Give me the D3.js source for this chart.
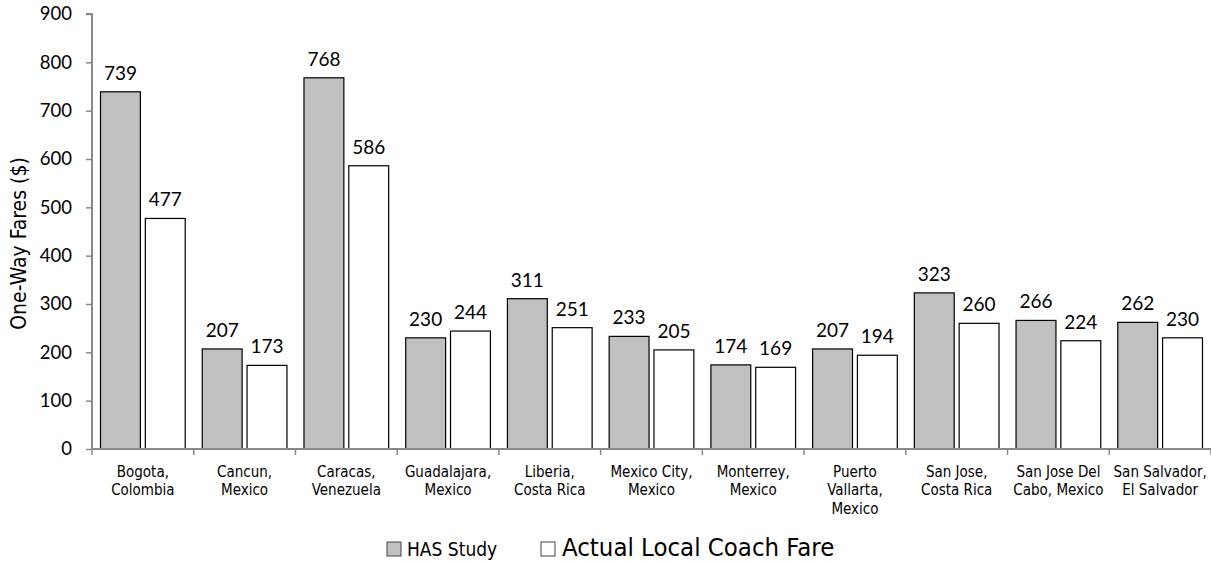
<!DOCTYPE html>
<html><head><meta charset="utf-8">
<script src="https://cdn.jsdelivr.net/npm/d3@7"></script>
<style>body{margin:0;background:#fff}</style>
</head><body>
<svg id="c" width="1211" height="561"></svg>
<script>
const categories = [["Bogota,","Colombia"],["Cancun,","Mexico"],["Caracas,","Venezuela"],["Guadalajara,","Mexico"],["Liberia,","Costa Rica"],["Mexico City,","Mexico"],["Monterrey,","Mexico"],["Puerto","Vallarta,","Mexico"],["San Jose,","Costa Rica"],["San Jose Del","Cabo, Mexico"],["San Salvador,","El Salvador"]];
const hasStudy = [739,207,768,230,311,233,174,207,323,266,262];
const actualFare = [477,173,586,244,251,205,169,194,260,224,230];
const yTicks = [0,100,200,300,400,500,600,700,800,900];
const seriesNames = ["HAS Study","Actual Local Coach Fare"];

const svg = d3.select("#c");
const pL = 92, pR = 1211, pT = 14, pB = 449;
const x = d3.scaleBand().domain(d3.range(categories.length)).range([pL, pR]);
const y = d3.scaleLinear().domain([0,900]).range([pB, pT]);
const sub = d3.scaleBand().domain([0,1]).range([0, x.bandwidth()]).paddingInner(0.11).paddingOuter(0.19);
const cal = "Lato, 'Liberation Sans', sans-serif";
const tah = "'DejaVu Sans Condensed', 'DejaVu Sans', sans-serif";

// y axis
const ya = svg.append("g").attr("transform",`translate(${pL},0)`)
  .call(d3.axisLeft(y).tickValues(yTicks).tickSize(6).tickPadding(14).tickFormat(d3.format("d")));
ya.select(".domain").attr("stroke","#888").attr("stroke-width",2).attr("d",`M-6,${pT}H0V${pB}`);
ya.selectAll(".tick line").attr("stroke","#888").attr("stroke-width",1.5);
ya.selectAll(".tick text").attr("font-family",cal).attr("font-size",18.5).attr("fill","#000");

svg.append("text").attr("transform",`translate(26,${(pT+pB)/2+12}) rotate(-90)`)
  .attr("text-anchor","middle").attr("font-family",tah).attr("font-size",21).attr("fill","#000")
  .text("One-Way Fares ($)");

const series = [hasStudy, actualFare];
const fills = ["#c0c0c0","#ffffff"];
series.forEach((vals,si)=>{
  const g = svg.append("g");
  g.selectAll("rect").data(vals).join("rect")
    .attr("x",(d,i)=>x(i)+sub(si)).attr("width",sub.bandwidth())
    .attr("y",d=>y(d)).attr("height",d=>pB-y(d))
    .attr("fill",fills[si]).attr("stroke","#000").attr("stroke-width",1.2);
  g.selectAll("text").data(vals).join("text")
    .attr("x",(d,i)=>x(i)+sub(si)+sub.bandwidth()/2).attr("y",d=>y(d)-12)
    .attr("text-anchor","middle").attr("font-family",cal).attr("font-size",19).attr("fill","#000")
    .text(d=>d);
});

// x axis
svg.append("line").attr("x1",pL).attr("x2",pR).attr("y1",pB).attr("y2",pB)
  .attr("stroke","#888").attr("stroke-width",2);
const xt = svg.append("g");
xt.selectAll("line").data(d3.range(categories.length+1)).join("line")
  .attr("x1",i=>pL+i*x.step()).attr("x2",i=>pL+i*x.step())
  .attr("y1",pB).attr("y2",pB+6).attr("stroke","#888").attr("stroke-width",1.5);
const cl = svg.append("g").selectAll("text").data(categories).join("text")
  .attr("x",(d,i)=>x(i)+x.bandwidth()/2).attr("y",pB+28)
  .attr("text-anchor","middle").attr("font-family",tah).attr("font-size",15).attr("fill","#000");
cl.selectAll("tspan").data(d=>d).join("tspan")
  .attr("x",function(){return this.parentNode.getAttribute("x");})
  .attr("dy",(d,i)=>i?18.3:0).text(d=>d);

// legend
const lg = svg.append("g");
lg.append("rect").attr("x",387).attr("y",542).attr("width",14).attr("height",14).attr("fill","#c0c0c0").attr("stroke","#444").attr("stroke-width",1);
lg.append("text").attr("x",407).attr("y",556).attr("font-family",tah).attr("font-size",19).text(seriesNames[0]);
lg.append("rect").attr("x",541).attr("y",542).attr("width",14).attr("height",14).attr("fill","#fff").attr("stroke","#444").attr("stroke-width",1);
lg.append("text").attr("x",562).attr("y",556).attr("font-family",tah).attr("font-size",25.5).text(seriesNames[1]);
</script>
</body></html>
